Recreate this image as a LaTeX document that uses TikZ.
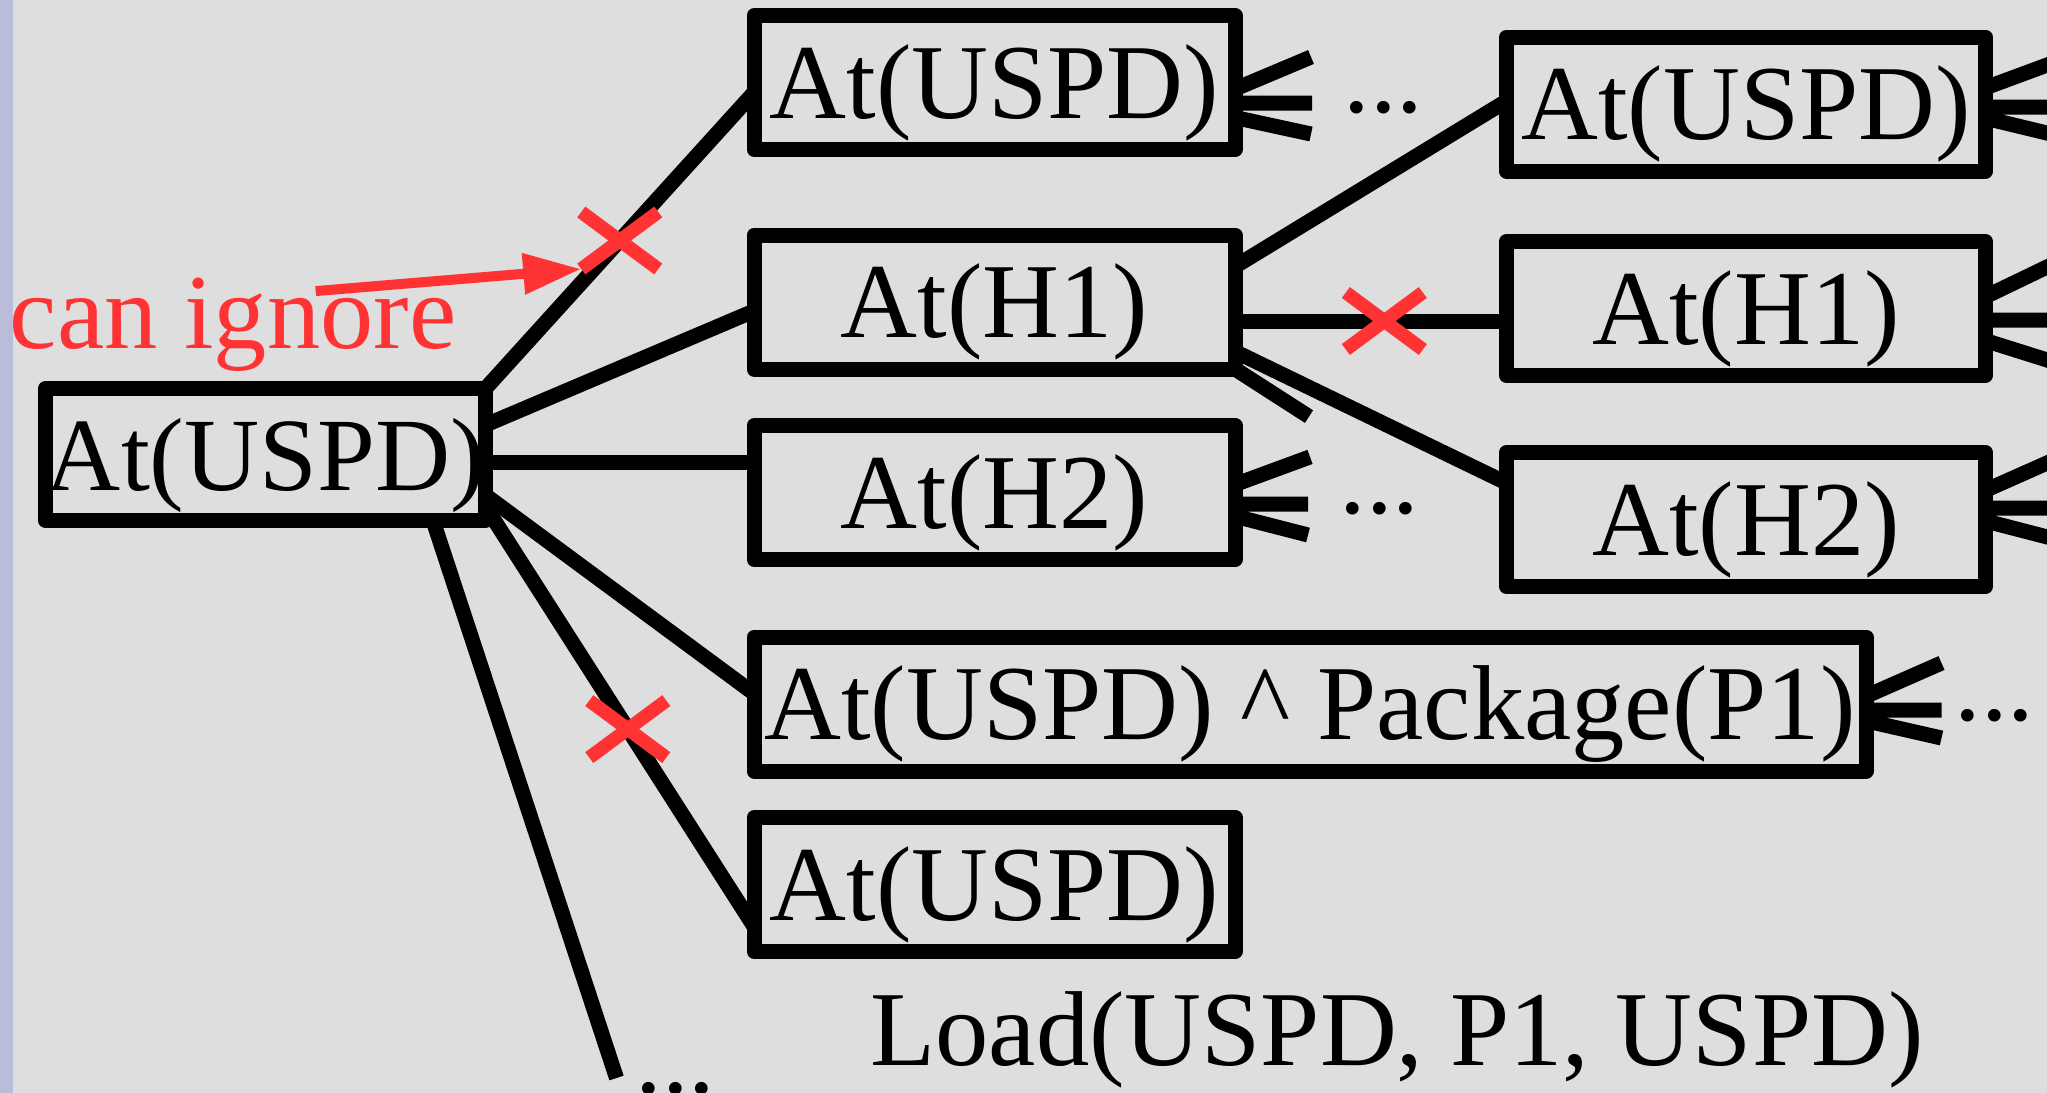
\documentclass[tikz,border=0pt]{standalone}
\usepackage{fontspec}
\setmainfont{Liberation Serif}
\usetikzlibrary{positioning,calc,shapes.misc,arrows.meta}

\definecolor{slidegray}{RGB}{222,222,222}
\definecolor{ignorered}{RGB}{255,51,51}
\definecolor{barblue}{RGB}{185,189,218}

\begin{document}
\begin{tikzpicture}[x=0.5pt,y=-0.5pt,
	atnode/.style={rectangle,draw=black,fill=slidegray,line width=7.5pt,line join=round,inner sep=0pt,outer sep=0pt,minimum width=240.5pt,minimum height=67pt,text height=35.5pt,text depth=0pt,font=\fontsize{53.25}{60}\selectfont},
	link/.style={draw=black,line width=7.5pt},
	cutmark/.style={cross out,draw=ignorered,line width=6.75pt,inner sep=0pt,outer sep=0pt,minimum width=38.5pt,minimum height=28.5pt},
	plaintext/.style={inner sep=0pt,font=\fontsize{53.25}{60}\selectfont},
	ignorearrow/.style={draw=ignorered,line width=5pt,-{Triangle[length=29pt,width=19.5pt]}}]
		\useasboundingbox (0,0) rectangle (2047,1093);
		\fill[slidegray] (0,0) rectangle (2047,1093);
		\fill[barblue] (0,0) rectangle (13,1093);
		\clip (0,0) rectangle (2047,1093);

		\node[atnode,minimum width=220pt,minimum height=66pt,font=\fontsize{52}{58}\selectfont] (root) at (265.5,454.5) {At(USPD)};
		\node[atnode] (uspdA) at (994.5,82.5) {At(USPD)};
		\node[atnode] (h1A) [below=42.75pt of uspdA] {At(H1)};
		\node[atnode] (h2A) [below=28.25pt of h1A] {At(H2)};
		\node[atnode,minimum width=556pt] (pkg) [below=38.75pt of h2A.south west,anchor=north west] {At(USPD) \textasciicircum{} Package(P1)};
		\node[atnode] (uspdB) [below=23.25pt of pkg.south west,anchor=north west] {At(USPD)};
		\node[atnode,minimum width=239.5pt] (uspdC) at (1746,104) {At(USPD)};
		\node[atnode,minimum width=239.5pt] (h1B) [below=35.25pt of uspdC] {At(H1)};
		\node[atnode,minimum width=239.5pt] (h2B) [below=38.5pt of h1B] {At(H2)};

		\node[plaintext,text=ignorered,anchor=base west] (ignore) at (9.5,348) {can ignore};
		\node[plaintext,anchor=base west] (load) at (870,1065) {Load(USPD, P1, USPD)};
		\node[plaintext,anchor=base west] (dotsA) at (1343,112) {...};
		\node[plaintext,anchor=base west] (dotsC) at (1339,513) {...};
		\node[plaintext,anchor=base west] (dotsD) at (1954,720) {...};
		\node[plaintext,anchor=base west] (dotsE) at (635,1093) {...};
		\coordinate (more) at (616.5,1078);

		% from the first state
		\draw[link] (root.north east) -- node[cutmark,pos=0.5] (cut1) {} ($(uspdA.west)+(0,10)$);
		\draw[link] ($(root.east)+(0,-29.5)$) -- ($(h1A.west)+(0,9)$);
		\draw[link] ($(root.east)+(0,7.5)$) -- ($(h2A.west)+(0,-30.5)$);
		\draw[link] ($(root.east)+(0,40.7)$) -- ($(pkg.west)+(0,-10.5)$);
		\draw[link] ($(root.south east)+(0,-14)$) -- node[cutmark,pos=0.53] (cut3) {} ($(uspdB.west)+(0,42)$);
		\draw[link] ($(root.south)+(167.5,0)$) -- (more);

		% from At(H1)
		\draw[link] ($(h1A.east)+(0,-35.5)$) -- ($(uspdC.west)+(0,-3)$);
		\draw[link] ($(h1A.east)+(0,19)$) -- node[cutmark,pos=0.55] (cut2) {} ($(h1B.west)+(0,12.5)$);
		\draw[link] ($(h1A.east)+(0,49.5)$) -- ($(h2B.west)+(0,-36.5)$);
		\draw[link] (h1A.south east) -- ++(74,47.6);

		% crow feet
		\draw[link] ($(uspdA.east)+(0,6.5)$) -- ++(76,-32) ($(uspdA.east)+(0,20.5)$) -- ++(77,0) ($(uspdA.east)+(0,35)$) -- ++(76,16.5);
		\draw[link] ($(h2A.east)+(0,-8)$) -- ++(75,-27.6) ($(h2A.east)+(0,11.5)$) -- ++(73,0) ($(h2A.east)+(0,23.7)$) -- ++(73,18.8);
		\draw[link] ($(pkg.east)+(0,-7.8)$) -- ++(75.5,-33.2) ($(pkg.east)+(0,6)$) -- ++(75.5,0) ($(pkg.east)+(0,16.8)$) -- ++(75.5,17.2);
		\draw[link] ($(uspdC.east)+(0,-16.2)$) -- ++(80,-29.6) ($(uspdC.east)+(0,3)$) -- ++(80,0) ($(uspdC.east)+(0,14.2)$) -- ++(80,19.3);
		\draw[link] ($(h1B.east)+(0,-11.9)$) -- ++(80,-38.5) ($(h1B.east)+(0,11.5)$) -- ++(80,0) ($(h1B.east)+(0,32.1)$) -- ++(80,25.2);
		\draw[link] ($(h2B.east)+(0,-29.2)$) -- ++(80,-35.5) ($(h2B.east)+(0,-11.5)$) -- ++(80,0) ($(h2B.east)+(0,1.5)$) -- ++(80,20.7);

		\draw[ignorearrow] ($(ignore.north)+(82.5,14)$) -- (cut1.south west);
	\end{tikzpicture}
\end{document}
